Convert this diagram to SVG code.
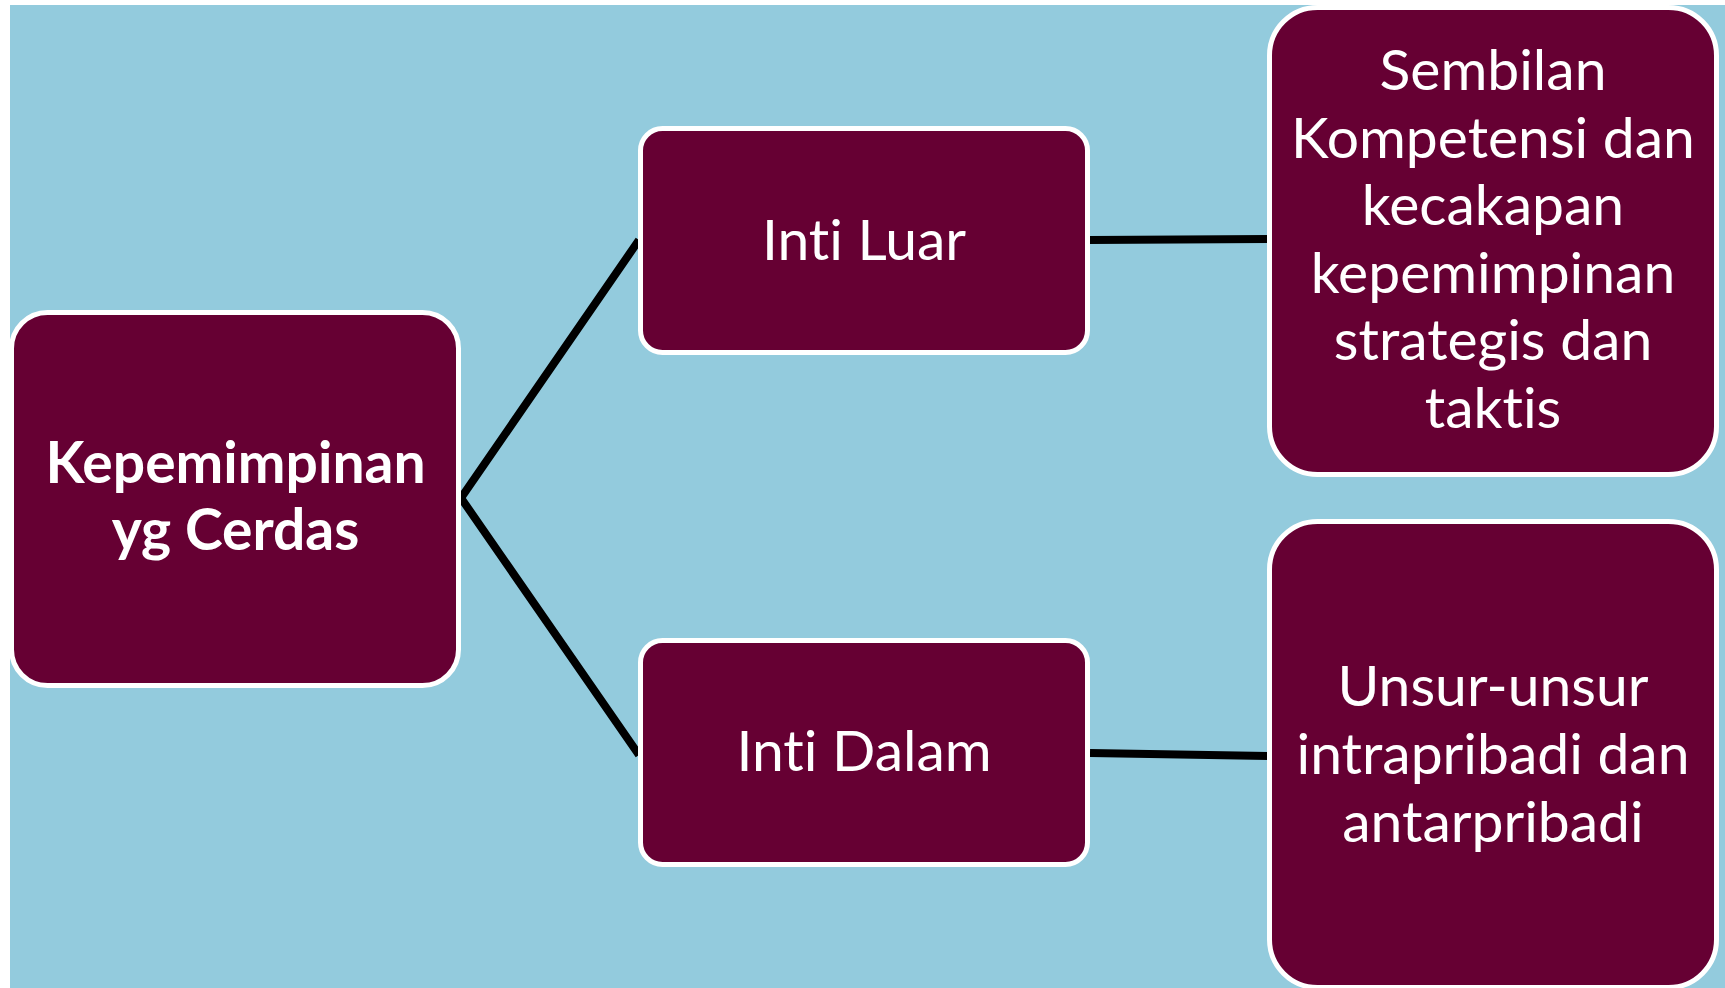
<svg xmlns="http://www.w3.org/2000/svg" width="1725" height="988" viewBox="0 0 1725 988">
<style>
.box{fill:#660033;stroke:#ffffff;stroke-width:5}
.conn{stroke:#000000;stroke-width:8;fill:none;stroke-linecap:butt}
.t{font-family:Lato,"Open Sans","Liberation Sans",sans-serif;fill:#ffffff;text-anchor:middle;font-variant-ligatures:none;font-feature-settings:"liga" 0}
.n{font-size:57px}
.b{font-size:57px;font-weight:bold}
</style>
<rect x="0" y="0" width="1725" height="988" fill="#ffffff"/>
<rect x="10" y="5" width="1715" height="983" fill="#93cbdd"/>
<g id="connectors">
<polyline class="conn" points="639,240 461,498 639,755"/>
<line class="conn" x1="1090" y1="240" x2="1268" y2="239"/>
<line class="conn" x1="1090" y1="753" x2="1268" y2="756"/>
</g>
<g id="node-main">
<rect class="box" x="11.5" y="312.5" width="447" height="373" rx="36"/>
<text class="t b" x="235.5" y="483">Kepemimpinan</text>
<text class="t b" x="235.5" y="550">yg Cerdas</text>
</g>
<g id="node-inti-luar">
<rect class="box" x="640.5" y="128.5" width="447" height="224" rx="22"/>
<text class="t n" x="864" y="260">Inti Luar</text>
</g>
<g id="node-inti-dalam">
<rect class="box" x="640.5" y="640.5" width="447" height="224" rx="22"/>
<text class="t n" x="864" y="771">Inti Dalam</text>
</g>
<g id="node-sembilan">
<rect class="box" x="1269.5" y="7.5" width="447" height="467" rx="48"/>
<text class="t n" x="1493" y="90">Sembilan</text>
<text class="t n" x="1493" y="157.5">Kompetensi dan</text>
<text class="t n" x="1493" y="225">kecakapan</text>
<text class="t n" x="1493" y="292.5">kepemimpinan</text>
<text class="t n" x="1493" y="360">strategis dan</text>
<text class="t n" x="1493" y="427.5">taktis</text>
</g>
<g id="node-unsur">
<rect class="box" x="1269.5" y="521.5" width="447" height="466" rx="48"/>
<text class="t n" x="1493" y="706">Unsur-unsur</text>
<text class="t n" x="1493" y="774">intrapribadi dan</text>
<text class="t n" x="1493" y="841.5">antarpribadi</text>
</g>
</svg>
